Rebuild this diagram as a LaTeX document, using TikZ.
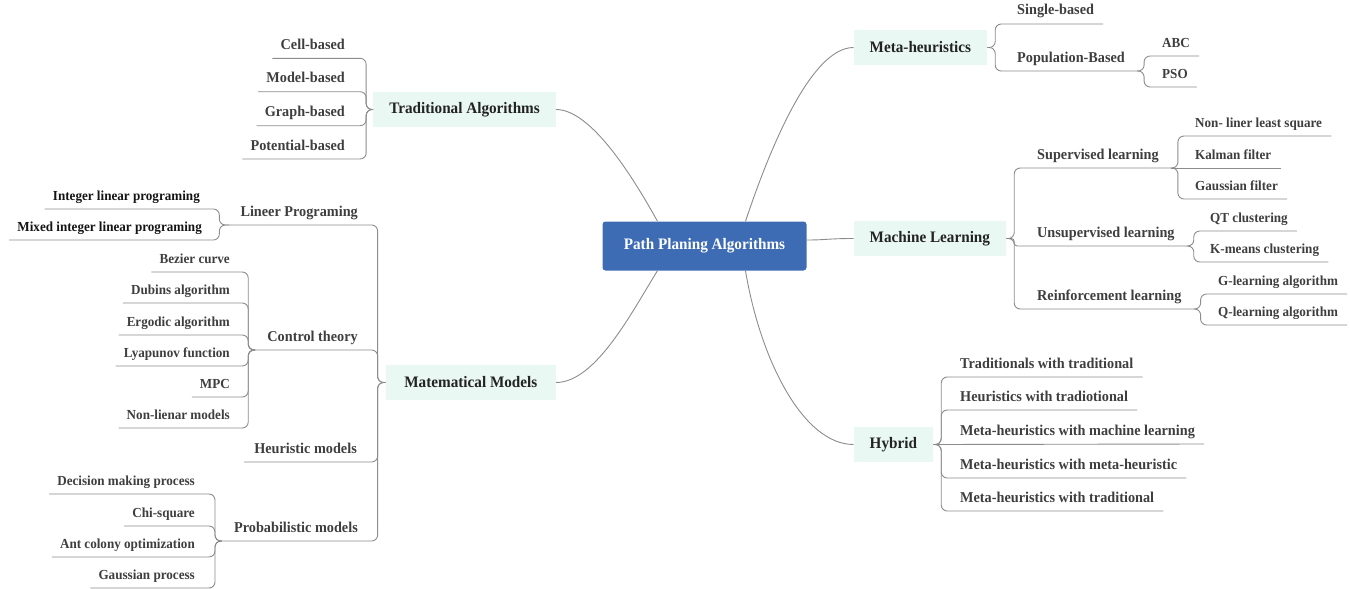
\documentclass[tikz,border=0pt]{standalone}
\usepackage{fontspec}
\newfontfamily\fmain[FakeStretch=0.95]{Liberation Serif}
\definecolor{blueC}{RGB}{61,108,181}
\definecolor{mint}{RGB}{234,248,243}
\definecolor{txt}{RGB}{62,62,62}
\definecolor{txtA}{RGB}{35,35,35}
\definecolor{txtB}{RGB}{20,20,20}
\definecolor{lnC}{RGB}{140,140,140}
\begin{document}
\begin{tikzpicture}[x=1pt,y=-1pt,
  conn/.style={draw=lnC, line width=0.9pt, rounded corners=6pt},
  root/.style={fill=blueC, rounded corners=3pt, text=white, minimum width=204pt, minimum height=49pt, inner sep=0pt, font=\fmain\bfseries\fontsize{16}{19}\selectfont},
  topic/.style={fill=mint, inner xsep=16pt, inner ysep=0pt, minimum height=35pt, text=txtA, font=\fmain\bfseries\fontsize{16}{19}\selectfont},
  sub/.style={inner sep=0pt, text=txt, font=\fmain\bfseries\fontsize{15}{18}\selectfont},
  leaf/.style={inner sep=0pt, text=txt, font=\fmain\bfseries\fontsize{13.8}{16}\selectfont},
  L/.style={anchor=base east}, R/.style={anchor=base west}]
\useasboundingbox (0,0) rectangle (1350,589);

% root and topics
\node[root] (PP) at (704.5,246) {Path Planing Algorithms};
\node[topic, anchor=east] (TA) at (556,109.5) {Traditional Algorithms};
\node[topic, anchor=east, inner xsep=18.5pt] (MM) at (556,382.5) {Matematical Models};
\node[topic, anchor=west] (MH) at (853.5,47.5) {Meta-heuristics};
\node[topic, anchor=west] (ML) at (853.5,238.5) {Machine Learning};
\node[topic, anchor=west] (HY) at (853.5,444.5) {Hybrid};

\draw[conn] ([xshift=-47pt]PP.north) .. controls +(-25,-45) and +(35,0) .. (TA.east);
\draw[conn] ([xshift=41pt]PP.north) .. controls +(20,-60) and +(-45,0) .. (MH.west);
\draw[conn] ([yshift=6pt]PP.east) .. controls +(20,0) and +(-25,0) .. (ML.west);
\draw[conn] ([xshift=-47pt]PP.south) .. controls +(-25,40) and +(40,0) .. (MM.east);
\draw[conn] ([xshift=41pt]PP.south) .. controls +(15,90) and +(-50,0) .. (HY.west);

% Traditional Algorithms
\node[sub,L] (cell) at (345,49.3) {Cell-based};
\node[sub,L] (model) at (345,82.7) {Model-based};
\node[sub,L] (graph) at (345,116.7) {Graph-based};
\node[sub,L] (pot) at (345,150) {Potential-based};
\foreach \n in {cell,model,graph,pot}
  \draw[conn] (TA.west) -- ++(-7,0) |- ([shift={(-8,9)}]\n.base west);

% Matematical Models
\node[sub,L] (lp) at (358,216) {Lineer Programing};
\node[sub,L] (ct) at (358,341) {Control theory};
\node[sub,L] (hm) at (357,453) {Heuristic models};
\node[sub,L] (pm) at (358,532) {Probabilistic models};
\coordinate (lpJ) at ([shift={(-11,9)}]lp.base west);
\coordinate (ctJ) at ([shift={(-12,9)}]ct.base west);
\coordinate (pmJ) at ([shift={(-12,9)}]pm.base west);
\draw[conn] (MM.west) -- ++(-8,0) |- (lpJ);
\draw[conn] (MM.west) -- ++(-8,0) |- (ctJ);
\draw[conn] (MM.west) -- ++(-8,0) |- ([shift={(-10,9)}]hm.base west);
\draw[conn] (MM.west) -- ++(-8,0) |- (pmJ);

\node[leaf,L,text=txtB] (ilp) at (200,200) {Integer linear programing};
\node[leaf,L,text=txtB] (milp) at (202,231) {Mixed integer linear programing};
\foreach \n in {ilp,milp}
  \draw[conn] (lpJ) -- ++(-10,0) |- ([shift={(-8,9)}]\n.base west);

\node[leaf,L] (bez) at (230,263) {Bezier curve};
\node[leaf,L] (dub) at (230,294) {Dubins algorithm};
\node[leaf,L] (erg) at (230,326) {Ergodic algorithm};
\node[leaf,L] (lya) at (230,357) {Lyapunov function};
\node[leaf,L] (mpc) at (230,388) {MPC};
\node[leaf,L] (nonlin) at (230,419) {Non-lienar models};
\foreach \n in {bez,dub,erg,lya,mpc,nonlin}
  \draw[conn] (ctJ) -- ++(-7,0) |- ([shift={(-8,9)}]\n.base west);

\node[leaf,L] (dmp) at (195,485) {Decision making process};
\node[leaf,L] (chi) at (195,517) {Chi-square};
\node[leaf,L] (aco) at (195,548) {Ant colony optimization};
\node[leaf,L] (gp) at (195,579) {Gaussian process};
\foreach \n in {dmp,chi,aco,gp}
  \draw[conn] (pmJ) -- ++(-7,0) |- ([shift={(-8,9)}]\n.base west);

% Meta-heuristics
\node[sub,R] (sb) at (1017,15) {Single-based};
\node[sub,R] (popb) at (1017,62) {Population-Based};
\coordinate (popJ) at ([shift={(12,9)}]popb.base east);
\draw[conn] (MH.east) -- ++(8,0) |- ([shift={(9,9)}]sb.base east);
\draw[conn] (MH.east) -- ++(8,0) |- (popJ);
\node[leaf,R] (abc) at (1162,47) {ABC};
\node[leaf,R] (pso) at (1162,78) {PSO};
\foreach \n in {abc,pso}
  \draw[conn] (popJ) -- ++(7,0) |- ([shift={(9,9)}]\n.base east);

% Machine Learning
\node[sub,R] (sup) at (1037,159) {Supervised learning};
\node[sub,R] (unsup) at (1037,237) {Unsupervised learning};
\node[sub,R] (rl) at (1037,300) {Reinforcement learning};
\coordinate (supJ) at ([shift={(12,9)}]sup.base east);
\coordinate (unsupJ) at ([shift={(12,9)}]unsup.base east);
\coordinate (rlJ) at ([shift={(12,9)}]rl.base east);
\draw[conn] (ML.east) -- ++(8,0) |- (supJ);
\draw[conn, rounded corners=3pt] (ML.east) -- ++(8,0) |- (unsupJ);
\draw[conn] (ML.east) -- ++(8,0) |- (rlJ);

\node[leaf,R] (nlls) at (1195,127) {Non- liner least square};
\node[leaf,R] (kal) at (1195,159) {Kalman filter};
\node[leaf,R] (gf) at (1195,190) {Gaussian filter};
\draw[conn] (supJ) -- ++(7,0) |- ([shift={(9,9)}]nlls.base east);
\draw[conn] (supJ) -- ([shift={(9,9)}]kal.base east);
\draw[conn] (supJ) -- ++(7,0) |- ([shift={(9,9)}]gf.base east);

\node[leaf,R] (qt) at (1210,222) {QT clustering};
\node[leaf,R] (km) at (1210,253) {K-means clustering};
\foreach \n in {qt,km}
  \draw[conn] (unsupJ) -- ++(7,0) |- ([shift={(9,9)}]\n.base east);

\node[leaf,R] (gl) at (1218,285) {G-learning algorithm};
\node[leaf,R] (ql) at (1218,316) {Q-learning algorithm};
\foreach \n in {gl,ql}
  \draw[conn] (rlJ) -- ++(7,0) |- ([shift={(9,9)}]\n.base east);

% Hybrid
\node[sub,R] (h1) at (960,368) {Traditionals with traditional};
\node[sub,R] (h2) at (960,401) {Heuristics with tradiotional};
\node[sub,R] (h3) at (960,435) {Meta-heuristics with machine learning};
\node[sub,R] (h4) at (960,469) {Meta-heuristics with meta-heuristic};
\node[sub,R] (h5) at (960,502) {Meta-heuristics with traditional};
\foreach \n in {h1,h2,h4,h5}
  \draw[conn] (HY.east) -- ++(8,0) |- ([shift={(9,9)}]\n.base east);
\draw[conn] (HY.east) -- ([shift={(9,9)}]h3.base east);
\end{tikzpicture}
\end{document}
